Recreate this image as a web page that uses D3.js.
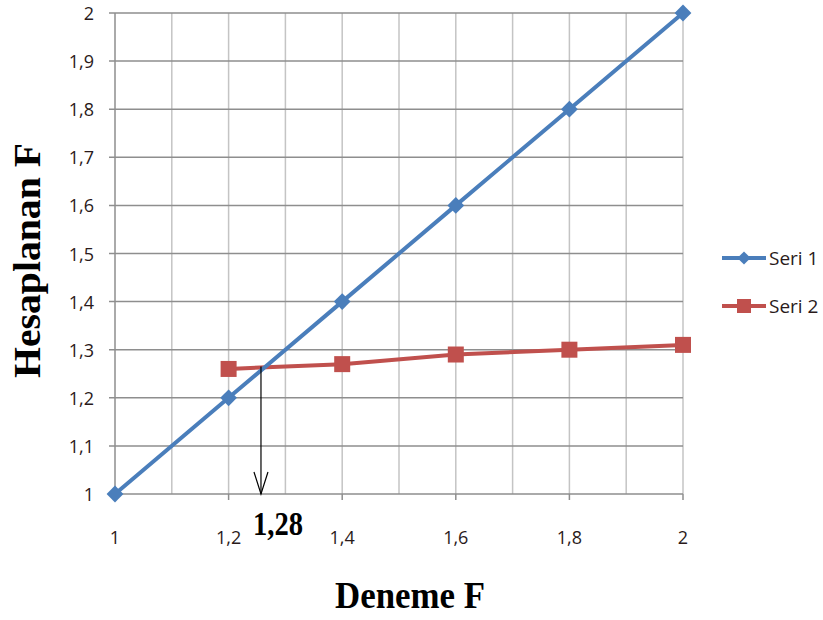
<!DOCTYPE html>
<html>
<head>
<meta charset="utf-8">
<script src="https://cdn.jsdelivr.net/npm/d3@7"></script>
<style>
  body { margin: 0; background: #fff; }
  svg { display: block; }
</style>
</head>
<body>
<svg id="chart" width="823" height="620"></svg>
<script>
const xValues = [1, 1.2, 1.4, 1.6, 1.8, 2];
const seri1 = [1, 1.2, 1.4, 1.6, 1.8, 2];
const seri2X = [1.2, 1.4, 1.6, 1.8, 2];
const seri2 = [1.26, 1.27, 1.29, 1.30, 1.31];
const xTicks = [1, 1.2, 1.4, 1.6, 1.8, 2];
const yTicks = [1, 1.1, 1.2, 1.3, 1.4, 1.5, 1.6, 1.7, 1.8, 1.9, 2];
const gridX = [1.1, 1.2, 1.3, 1.4, 1.5, 1.6, 1.7, 1.8, 1.9, 2];
const crossX = 1.257; // where the arrow drops
const crossLabel = "1,28";

const svg = d3.select("#chart");
const pLeft = 115, pTop = 13, pRight = 683, pBottom = 494;
const tickFont = "'Open Sans', sans-serif";
const tickColor = "#2a1a1a";

const x = d3.scaleLinear().domain([1, 2]).range([pLeft, pRight]);
const y = d3.scaleLinear().domain([1, 2]).range([pBottom, pTop]);
const fmt = (d) => String(d).replace(".", ",");

// vertical grid lines (lighter)
svg.append("g")
  .selectAll("line")
  .data(gridX)
  .enter()
  .append("line")
  .attr("x1", (d) => x(d)).attr("x2", (d) => x(d))
  .attr("y1", pTop).attr("y2", pBottom)
  .style("stroke", "#c4c4c4")
  .style("stroke-width", 1.5);

// horizontal grid lines (darker), slightly past the axis
svg.append("g")
  .selectAll("line")
  .data(yTicks)
  .enter()
  .append("line")
  .attr("x1", pLeft - 6).attr("x2", pRight)
  .attr("y1", (d) => y(d)).attr("y2", (d) => y(d))
  .style("stroke", "#8e8e8e")
  .style("stroke-width", 1.5);

// y axis line
svg.append("line")
  .attr("x1", pLeft).attr("x2", pLeft)
  .attr("y1", pTop).attr("y2", pBottom)
  .style("stroke", "#8e8e8e")
  .style("stroke-width", 1.5);

// x major ticks
svg.append("g")
  .selectAll("line")
  .data(xTicks)
  .enter()
  .append("line")
  .attr("x1", (d) => x(d)).attr("x2", (d) => x(d))
  .attr("y1", pBottom).attr("y2", pBottom + 6)
  .style("stroke", "#8e8e8e")
  .style("stroke-width", 1.5);

// tick labels
svg.append("g")
  .selectAll("text")
  .data(yTicks)
  .enter()
  .append("text")
  .attr("x", 94)
  .attr("y", (d) => y(d) + 7)
  .attr("text-anchor", "end")
  .style("font-family", tickFont)
  .style("font-size", "18px")
  .style("fill", tickColor)
  .text(fmt);

svg.append("g")
  .selectAll("text")
  .data(xTicks)
  .enter()
  .append("text")
  .attr("x", (d) => x(d))
  .attr("y", 544)
  .attr("text-anchor", "middle")
  .style("font-family", tickFont)
  .style("font-size", "18px")
  .style("fill", tickColor)
  .text(fmt);

// series lines
const line = d3.line().x((d) => x(d[0])).y((d) => y(d[1]));
const s1 = xValues.map((v, i) => [v, seri1[i]]);
const s2 = seri2X.map((v, i) => [v, seri2[i]]);

svg.append("path")
  .attr("d", line(s2))
  .style("fill", "none")
  .style("stroke", "#c0504d")
  .style("stroke-width", 4);

svg.append("path")
  .attr("d", line(s1))
  .style("fill", "none")
  .style("stroke", "#4a7ebb")
  .style("stroke-width", 4);

const diamond = d3.symbol().type(d3.symbolDiamond2).size(180);
svg.append("g")
  .selectAll("path")
  .data(s1)
  .enter()
  .append("path")
  .attr("transform", (d) => `translate(${x(d[0])},${y(d[1])})`)
  .attr("d", diamond)
  .style("fill", "#4a7ebb");

svg.append("g")
  .selectAll("rect")
  .data(s2)
  .enter()
  .append("rect")
  .attr("x", (d) => x(d[0]) - 8)
  .attr("y", (d) => y(d[1]) - 8)
  .attr("width", 16)
  .attr("height", 16)
  .style("fill", "#c0504d");

// arrow from intersection down to the axis
const yArrowTop = y(1.265);
svg.append("line")
  .attr("x1", x(crossX)).attr("x2", x(crossX))
  .attr("y1", yArrowTop).attr("y2", pBottom)
  .style("stroke", "#000")
  .style("stroke-width", 1.2);
svg.append("path")
  .attr("d", `M ${x(crossX) - 7},${pBottom - 22} L ${x(crossX)},${pBottom} L ${x(crossX) + 7},${pBottom - 22}`)
  .style("fill", "none")
  .style("stroke", "#000")
  .style("stroke-width", 1.2);

svg.append("text")
  .attr("x", 253)
  .attr("y", 535)
  .attr("textLength", 50)
  .attr("lengthAdjust", "spacingAndGlyphs")
  .style("font-family", "'Liberation Serif', serif")
  .style("font-weight", "bold")
  .style("font-size", "33px")
  .text(crossLabel);

// axis titles
svg.append("text")
  .attr("x", 335)
  .attr("y", 608)
  .attr("textLength", 150)
  .attr("lengthAdjust", "spacingAndGlyphs")
  .style("font-family", "'Liberation Serif', serif")
  .style("font-weight", "bold")
  .style("font-size", "38px")
  .text("Deneme F");

svg.append("text")
  .attr("transform", "translate(40,378) rotate(-90)")
  .attr("textLength", 235)
  .attr("lengthAdjust", "spacingAndGlyphs")
  .style("font-family", "'Liberation Serif', serif")
  .style("font-weight", "bold")
  .style("font-size", "37px")
  .text("Hesaplanan F");

// legend
const legend = [
  { name: "Seri 1", color: "#4a7ebb", shape: "diamond", y: 258 },
  { name: "Seri 2", color: "#c0504d", shape: "square", y: 306 },
];
const lg = svg.append("g").selectAll("g").data(legend).enter().append("g")
  .attr("transform", (d) => `translate(0,${d.y})`);
lg.append("line")
  .attr("x1", 722).attr("x2", 766)
  .attr("y1", 0).attr("y2", 0)
  .style("stroke", (d) => d.color)
  .style("stroke-width", 4);
lg.filter((d) => d.shape === "diamond").append("path")
  .attr("transform", "translate(744,0)")
  .attr("d", d3.symbol().type(d3.symbolDiamond2).size(110))
  .style("fill", (d) => d.color);
lg.filter((d) => d.shape === "square").append("rect")
  .attr("x", 737).attr("y", -7).attr("width", 14).attr("height", 14)
  .style("fill", (d) => d.color);
lg.append("text")
  .attr("x", 769)
  .attr("y", 7)
  .style("font-family", tickFont)
  .style("font-size", "19px")
  .style("fill", tickColor)
  .text((d) => d.name);
</script>
</body>
</html>
